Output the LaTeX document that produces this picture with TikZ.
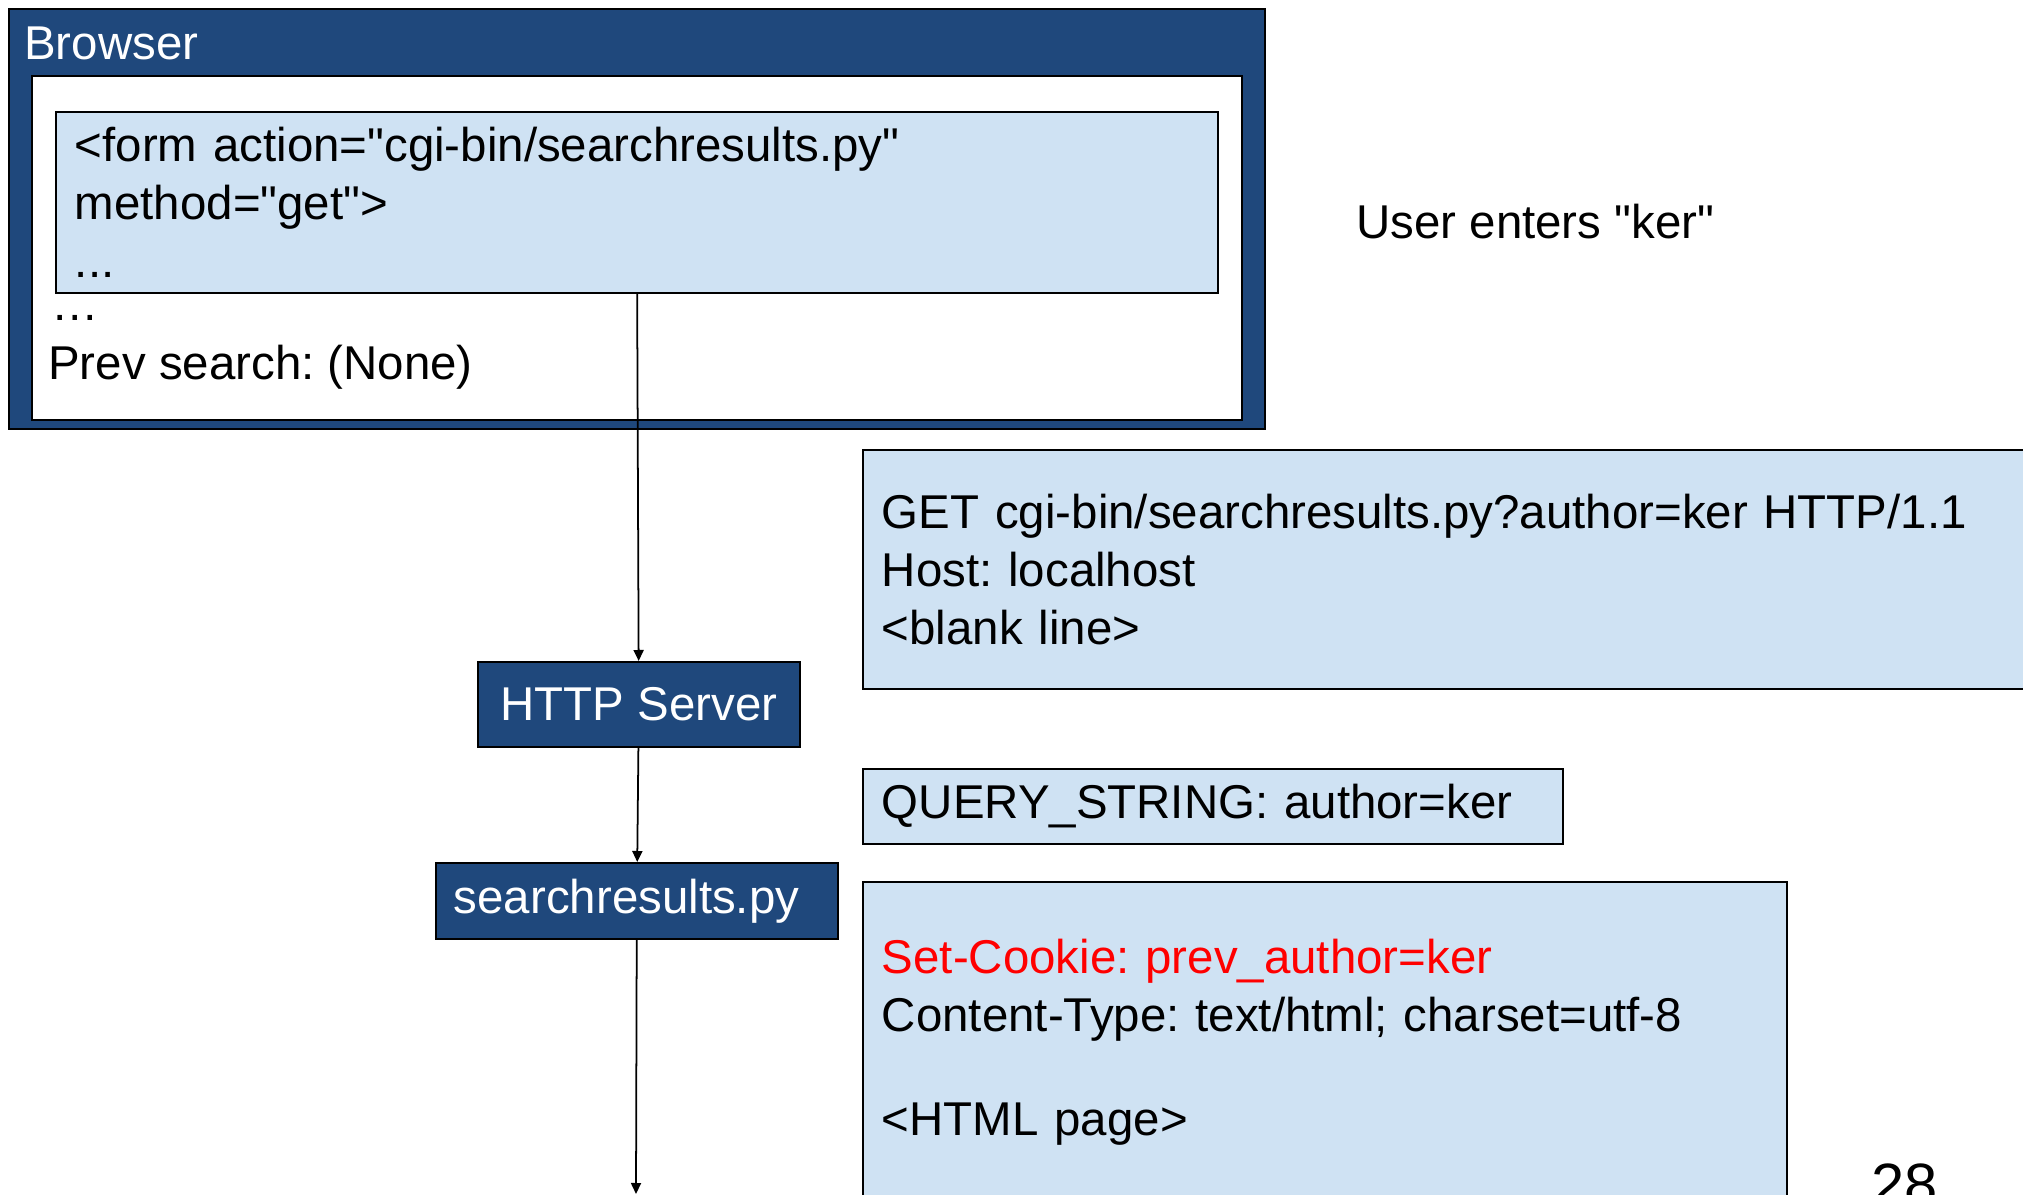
\documentclass[tikz,border=0pt]{standalone}
\usepackage{fontspec}
\setmainfont{Liberation Sans}[Ligatures=TeXOff]
\usepackage{tikz}
\usetikzlibrary{arrows.meta, positioning}
\definecolor{slideblue}{HTML}{1F487C}
\definecolor{paleblue}{HTML}{CFE2F3}
\frenchspacing

\begin{document}
\begin{tikzpicture}[
        x=0.02cm, y=-0.02cm,
        font=\fontsize{27}{33}\selectfont,
        panel/.style={
            draw,
            line width=1pt,
            inner sep=0pt,
            anchor=north west
        },
        dark/.style={panel, fill=slideblue},
        pale/.style={panel, fill=paleblue, align=left, inner xsep=0.38cm},
        proc/.style={dark, text=white, align=center},
        plain/.style={anchor=base west, inner sep=0pt},
        arrow/.style={-{Triangle[length=2.2mm, width=2mm]}, line width=1pt}
    ]

        \useasboundingbox (0,0) rectangle (2023,1195);
        \clip (0,0) rectangle (2023,1195);

        % ---- Browser window ----
        \node[dark, minimum width=25.12cm, minimum height=8.4cm] (browser) at (8,8) {};
        \node[plain, text=white] (btitle) at (24,60) {Browser};
        \node[panel, fill=white, minimum width=24.2cm, minimum height=6.88cm] (page) at (31,75) {};
        \node[pale, text width=22.48cm, minimum height=3.62cm] (form) at (55,111)
            {<form action="cgi-bin/searchresults.py"\\method="get">\\...};
        \node[plain] (dots) at (51,321) {…};
        \node[plain] (prev) at (48,380) {Prev search: (None)};

        % ---- Server side ----
        \node[proc, minimum width=6.44cm, minimum height=1.7cm] (server) at (477,661) {HTTP Server};
        \node[proc, align=left, inner xsep=0.36cm, text width=7.32cm, minimum height=1.52cm] (results) at (435,862) {searchresults.py};
        \coordinate (exit) at (636,1194);

        % ---- Messages ----
        \node[anchor=west, inner sep=0pt] (user) at (1356,222) {User enters "ker"};
        \node[pale, text width=23.24cm, minimum height=4.78cm] (request) at (862,449)
            {GET cgi-bin/searchresults.py?author=ker HTTP/1.1\\Host: localhost\\<blank line>};
        \node[pale, text width=13.24cm, minimum height=1.5cm] (query) at (862,768)
            {QUERY\_STRING: author=ker};
        \node[pale, text width=17.72cm, minimum height=6.42cm] (response) at (862,881)
            {\textcolor{red}{Set-Cookie: prev\_author=ker}\\Content-Type: text/html; charset=utf-8\\[26pt]<HTML page>};
        \node[anchor=north west, inner sep=0pt, font=\fontsize{34}{40}\selectfont] (pagenum) at (1871,1163) {28};

        % ---- Arrows ----
        \draw[arrow] (form) -- (server);
        \draw[arrow] (server) -- (results);
        \draw[arrow] (results) -- (exit);

    \end{tikzpicture}
\end{document}
